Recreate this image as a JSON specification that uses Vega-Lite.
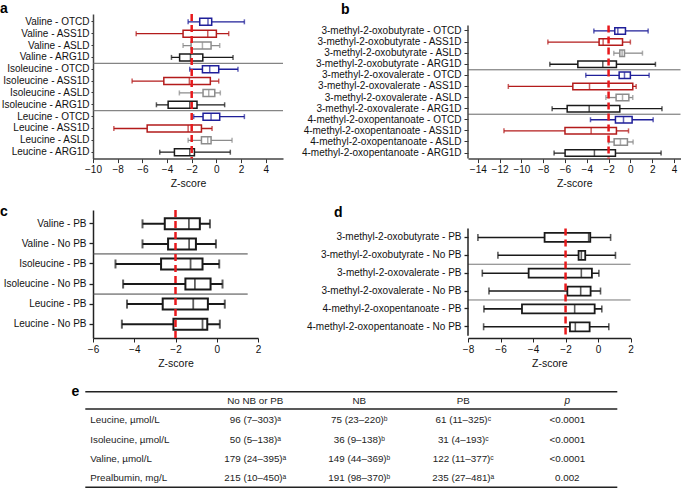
{
  "$schema": "https://vega.github.io/schema/vega-lite/v6.json",
  "padding": {"left": 0, "top": 1, "right": 0, "bottom": 0},
  "background": "white",
  "config": {
    "font": "Liberation Sans",
    "view": {"stroke": null},
    "axis": {"labelFontSize": 10, "titleFontSize": 10.5, "titleFontWeight": "normal", "grid": false, "labelColor": "#111111", "titleColor": "#111111", "domainColor": "#333333", "tickColor": "#333333", "labelOverlap": false, "labelFlush": false},
    "title": {"fontSize": 14, "fontWeight": "bold", "anchor": "start", "frame": "group", "offset": 0, "baseline": "alphabetic", "color": "black"}
  },
  "datasets": {
    "a": [
      {"label": "Valine - OTCD", "group": "OTCD", "lo": -2.29, "q1": -1.35, "med": -0.68, "q3": -0.38, "hi": 2.27},
      {"label": "Valine - ASS1D", "group": "ASS1D", "lo": -6.5, "q1": -2.7, "med": -0.7, "q3": 0.0, "hi": 1.0},
      {"label": "Valine - ASLD", "group": "ASLD", "lo": -2.7, "q1": -2.05, "med": -1.13, "q3": -0.43, "hi": 0.27},
      {"label": "Valine - ARG1D", "group": "ARG1D", "lo": -3.64, "q1": -2.98, "med": -2.1, "q3": -1.1, "hi": 1.35},
      {"label": "Isoleucine - OTCD", "group": "OTCD", "lo": -2.16, "q1": -1.13, "med": -0.54, "q3": 0.19, "hi": 1.75},
      {"label": "Isoleucine - ASS1D", "group": "ASS1D", "lo": -6.83, "q1": -4.26, "med": -2.19, "q3": -0.49, "hi": 0.19},
      {"label": "Isoleucine - ASLD", "group": "ASLD", "lo": -3.0, "q1": -1.08, "med": -0.62, "q3": -0.13, "hi": 0.32},
      {"label": "Isoleucine - ARG1D", "group": "ARG1D", "lo": -4.86, "q1": -3.91, "med": -2.16, "q3": -1.57, "hi": 0.67},
      {"label": "Leucine - OTCD", "group": "OTCD", "lo": -1.84, "q1": -1.08, "med": -0.43, "q3": 0.27, "hi": 2.27},
      {"label": "Leucine - ASS1D", "group": "ASS1D", "lo": -8.31, "q1": -5.61, "med": -2.29, "q3": -1.21, "hi": -0.35},
      {"label": "Leucine - ASLD", "group": "ASLD", "lo": -2.29, "q1": -1.21, "med": -0.7, "q3": -0.43, "hi": 1.27},
      {"label": "Leucine - ARG1D", "group": "ARG1D", "lo": -4.59, "q1": -3.4, "med": -2.16, "q3": -1.78, "hi": 1.13}
    ],
    "b": [
      {"label": "3-methyl-2-oxobutyrate - OTCD", "group": "OTCD", "lo": -3.35, "q1": -1.43, "med": -1.15, "q3": -0.45, "hi": 1.63},
      {"label": "3-methyl-2-oxobutyrate - ASS1D", "group": "ASS1D", "lo": -7.57, "q1": -2.87, "med": -2.5, "q3": -0.72, "hi": 0.0},
      {"label": "3-methyl-2-oxobutyrate - ASLD", "group": "ASLD", "lo": -1.52, "q1": -0.97, "med": -0.76, "q3": -0.54, "hi": 1.11},
      {"label": "3-methyl-2-oxobutyrate - ARG1D", "group": "ARG1D", "lo": -7.39, "q1": -4.82, "med": -2.53, "q3": -1.28, "hi": 2.3},
      {"label": "3-methyl-2-oxovalerate - OTCD", "group": "OTCD", "lo": -4.09, "q1": -1.03, "med": -0.54, "q3": 0.0, "hi": 1.72},
      {"label": "3-methyl-2-oxovalerate - ASS1D", "group": "ASS1D", "lo": -11.2, "q1": -5.28, "med": -3.75, "q3": 0.22, "hi": 0.53},
      {"label": "3-methyl-2-oxovalerate - ASLD", "group": "ASLD", "lo": -2.25, "q1": -1.31, "med": -0.72, "q3": -0.14, "hi": 0.22},
      {"label": "3-methyl-2-oxovalerate - ARG1D", "group": "ARG1D", "lo": -7.18, "q1": -5.8, "med": -3.78, "q3": -0.97, "hi": 2.9},
      {"label": "4-methyl-2-oxopentanoate - OTCD", "group": "OTCD", "lo": -3.66, "q1": -1.37, "med": -0.63, "q3": 0.16, "hi": 2.09},
      {"label": "4-methyl-2-oxopentanoate - ASS1D", "group": "ASS1D", "lo": -11.6, "q1": -6.0, "med": -3.6, "q3": -1.28, "hi": -0.17},
      {"label": "4-methyl-2-oxopentanoate - ASLD", "group": "ASLD", "lo": -2.0, "q1": -1.49, "med": -0.91, "q3": -0.27, "hi": 0.25},
      {"label": "4-methyl-2-oxopentanoate - ARG1D", "group": "ARG1D", "lo": -7.0, "q1": -5.99, "med": -3.3, "q3": -1.37, "hi": 2.82}
    ],
    "c": [
      {"label": "Valine - PB", "lo": -3.6, "q1": -2.52, "med": -1.35, "q3": -0.82, "hi": -0.33},
      {"label": "Valine - No PB", "lo": -3.6, "q1": -2.36, "med": -1.34, "q3": -1.01, "hi": -0.04},
      {"label": "Isoleucine - PB", "lo": -4.91, "q1": -2.7, "med": -1.27, "q3": -0.69, "hi": 0.12},
      {"label": "Isoleucine - No PB", "lo": -4.54, "q1": -1.52, "med": -1.06, "q3": -0.3, "hi": 0.28},
      {"label": "Leucine - PB", "lo": -4.35, "q1": -2.62, "med": -1.14, "q3": -0.43, "hi": 0.39},
      {"label": "Leucine - No PB", "lo": -4.6, "q1": -2.1, "med": -0.69, "q3": -0.46, "hi": 0.15}
    ],
    "d": [
      {"label": "3-methyl-2-oxobutyrate - PB", "lo": -7.39, "q1": -3.29, "med": -0.58, "q3": -0.48, "hi": 0.77},
      {"label": "3-methyl-2-oxobutyrate - No PB", "lo": -6.16, "q1": -1.2, "med": -1.03, "q3": -0.79, "hi": 1.07},
      {"label": "3-methyl-2-oxovalerate - PB", "lo": -7.12, "q1": -4.27, "med": -1.03, "q3": -0.38, "hi": 0.05},
      {"label": "3-methyl-2-oxovalerate - No PB", "lo": -6.71, "q1": -1.89, "med": -1.07, "q3": -0.46, "hi": 0.15},
      {"label": "4-methyl-2-oxopentanoate - PB", "lo": -7.02, "q1": -4.68, "med": -1.44, "q3": -0.21, "hi": 0.23},
      {"label": "4-methyl-2-oxopentanoate - No PB", "lo": -7.04, "q1": -1.73, "med": -1.4, "q3": -0.52, "hi": 0.66}
    ],
    "e": [
      {"row": "header", "col": "No NB or PB", "text": "No NB or PB"},
      {"row": "header", "col": "NB", "text": "NB"},
      {"row": "header", "col": "PB", "text": "PB"},
      {"row": "header", "col": "p", "text": "p"},
      {"row": "Leucine, µmol/L", "col": "label", "text": "Leucine, µmol/L"},
      {"row": "Leucine, µmol/L", "col": "No NB or PB", "text": "96 (7–303)ᵃ"},
      {"row": "Leucine, µmol/L", "col": "NB", "text": "75 (23–220)ᵇ"},
      {"row": "Leucine, µmol/L", "col": "PB", "text": "61 (11–325)ᶜ"},
      {"row": "Leucine, µmol/L", "col": "p", "text": "<0.0001"},
      {"row": "Isoleucine, µmol/L", "col": "label", "text": "Isoleucine, µmol/L"},
      {"row": "Isoleucine, µmol/L", "col": "No NB or PB", "text": "50 (5–138)ᵃ"},
      {"row": "Isoleucine, µmol/L", "col": "NB", "text": "36 (9–138)ᵇ"},
      {"row": "Isoleucine, µmol/L", "col": "PB", "text": "31 (4–193)ᶜ"},
      {"row": "Isoleucine, µmol/L", "col": "p", "text": "<0.0001"},
      {"row": "Valine, µmol/L", "col": "label", "text": "Valine, µmol/L"},
      {"row": "Valine, µmol/L", "col": "No NB or PB", "text": "179 (24–395)ᵃ"},
      {"row": "Valine, µmol/L", "col": "NB", "text": "149 (44–369)ᵇ"},
      {"row": "Valine, µmol/L", "col": "PB", "text": "122 (11–377)ᶜ"},
      {"row": "Valine, µmol/L", "col": "p", "text": "<0.0001"},
      {"row": "Prealbumin, mg/L", "col": "label", "text": "Prealbumin, mg/L"},
      {"row": "Prealbumin, mg/L", "col": "No NB or PB", "text": "215 (10–450)ᵃ"},
      {"row": "Prealbumin, mg/L", "col": "NB", "text": "191 (98–370)ᵇ"},
      {"row": "Prealbumin, mg/L", "col": "PB", "text": "235 (27–481)ᵃ"},
      {"row": "Prealbumin, mg/L", "col": "p", "text": "0.002"}
    ]
  },
  "columns": 2,
  "bounds": "flush",
  "align": "each",
  "spacing": {"row": 51, "column": 185},
  "concat": [
    {
      "width": 190, "height": 144.6,
      "title": {"text": "a", "dx": -93, "offset": -3},
      "layer": [
        {"data": {"values": [{"label": "Isoleucine - OTCD"}, {"label": "Leucine - OTCD"}]},
         "mark": {"type": "rule", "color": "#666666", "strokeWidth": 1},
         "encoding": {"y": {"field": "label", "type": "nominal", "bandPosition": 0,
           "scale": {"domain": ["Valine - OTCD","Valine - ASS1D","Valine - ASLD","Valine - ARG1D","Isoleucine - OTCD","Isoleucine - ASS1D","Isoleucine - ASLD","Isoleucine - ARG1D","Leucine - OTCD","Leucine - ASS1D","Leucine - ASLD","Leucine - ARG1D"], "paddingInner": 0, "paddingOuter": 0.1, "align": 0.8},
           "axis": {"title": null, "tickSize": 2, "labelPadding": 2, "labelLimit": 300, "domainWidth": 1.5, "domainColor": "#444444",
             "encode": {"labels": {"update": {"fill": {"signal": "indexof(datum.value,'OTCD')>=0 ? '#2323ee' : indexof(datum.value,'ASS1D')>=0 ? '#ee1f1f' : indexof(datum.value,'ASLD')>=0 ? '#9a9a9a' : '#111111'"}}}}}}}},
        {"data": {"name": "a"}, "mark": {"type": "rule", "strokeWidth": 1.3},
         "encoding": {"y": {"field": "label", "type": "nominal", "title": null},
           "x": {"field": "lo", "type": "quantitative", "title": "Z-score", "scale": {"domain": [-10, 5.4], "nice": false, "zero": false},
             "axis": {"title": "Z-score", "values": [-10, -8, -6, -4, -2, 0, 2, 4], "format": "d", "tickCount": 40, "labelOverlap": false, "labelFlush": false, "tickSize": 4, "labelPadding": 2, "titlePadding": 4, "domainWidth": 1.5, "domainColor": "#444444"}},
           "x2": {"field": "hi"},
           "color": {"field": "group", "type": "nominal", "scale": {"domain": ["OTCD", "ASS1D", "ASLD", "ARG1D"], "range": ["#1f1f99", "#b31b1b", "#8c8c8c", "#1a1a1a"]}, "legend": null}}},
        {"data": {"name": "a"}, "mark": {"type": "bar", "fill": "white", "size": 7, "strokeWidth": 1.5},
         "encoding": {"y": {"field": "label", "type": "nominal", "title": null},
           "x": {"field": "q1", "type": "quantitative", "title": "Z-score", "scale": {"domain": [-10, 5.4], "nice": false, "zero": false}},
           "x2": {"field": "q3"},
           "stroke": {"field": "group", "type": "nominal", "scale": {"domain": ["OTCD", "ASS1D", "ASLD", "ARG1D"], "range": ["#1f1f99", "#b31b1b", "#8c8c8c", "#1a1a1a"]}, "legend": null}}},
        {"data": {"name": "a"}, "mark": {"type": "tick", "size": 7, "thickness": 1.5},
         "encoding": {"y": {"field": "label", "type": "nominal", "title": null},
           "x": {"field": "med", "type": "quantitative", "title": "Z-score", "scale": {"domain": [-10, 5.4], "nice": false, "zero": false}},
           "color": {"field": "group", "type": "nominal", "legend": null}}},
        {"data": {"name": "a"}, "mark": {"type": "tick", "size": 5, "thickness": 1.5},
         "encoding": {"y": {"field": "label", "type": "nominal", "title": null},
           "x": {"field": "lo", "type": "quantitative", "title": "Z-score", "scale": {"domain": [-10, 5.4], "nice": false, "zero": false}},
           "color": {"field": "group", "type": "nominal", "legend": null}}},
        {"data": {"name": "a"}, "mark": {"type": "tick", "size": 5, "thickness": 1.5},
         "encoding": {"y": {"field": "label", "type": "nominal", "title": null},
           "x": {"field": "hi", "type": "quantitative", "title": "Z-score", "scale": {"domain": [-10, 5.4], "nice": false, "zero": false}},
           "color": {"field": "group", "type": "nominal", "legend": null}}},
        {"data": {"values": [{"z": -2}]}, "mark": {"type": "rule", "color": "#e8191c", "strokeWidth": 2.5, "strokeDash": [7, 4]},
         "encoding": {"x": {"field": "z", "type": "quantitative", "title": "Z-score", "scale": {"domain": [-10, 5.4], "nice": false, "zero": false}}}}
      ]
    },
    {
      "width": 212.5, "height": 144.6,
      "title": {"text": "b", "dx": -127, "offset": -3},
      "layer": [
        {"data": {"values": [{"label": "3-methyl-2-oxovalerate - OTCD"}, {"label": "4-methyl-2-oxopentanoate - OTCD"}]},
         "mark": {"type": "rule", "color": "#666666", "strokeWidth": 1},
         "encoding": {"y": {"field": "label", "type": "nominal", "bandPosition": 0,
           "scale": {"domain": ["3-methyl-2-oxobutyrate - OTCD","3-methyl-2-oxobutyrate - ASS1D","3-methyl-2-oxobutyrate - ASLD","3-methyl-2-oxobutyrate - ARG1D","3-methyl-2-oxovalerate - OTCD","3-methyl-2-oxovalerate - ASS1D","3-methyl-2-oxovalerate - ASLD","3-methyl-2-oxovalerate - ARG1D","4-methyl-2-oxopentanoate - OTCD","4-methyl-2-oxopentanoate - ASS1D","4-methyl-2-oxopentanoate - ASLD","4-methyl-2-oxopentanoate - ARG1D"], "paddingInner": 0, "paddingOuter": 0.514, "align": 1},
           "axis": {"title": null, "domain": false, "tickSize": 4, "labelPadding": 3, "labelLimit": 300,
             "encode": {"labels": {"update": {"fill": {"signal": "indexof(datum.value,'OTCD')>=0 ? '#2323ee' : indexof(datum.value,'ASS1D')>=0 ? '#ee1f1f' : indexof(datum.value,'ASLD')>=0 ? '#9a9a9a' : '#111111'"}}}}}}}},
        {"data": {"name": "b"}, "mark": {"type": "rule", "strokeWidth": 1.3},
         "encoding": {"y": {"field": "label", "type": "nominal", "title": null},
           "x": {"field": "lo", "type": "quantitative", "title": "Z-score", "scale": {"domain": [-14.9, 4.6], "nice": false, "zero": false},
             "axis": {"title": "Z-score", "values": [-14, -12, -10, -8, -6, -4, -2, 0, 2, 4], "format": "d", "tickCount": 40, "labelOverlap": false, "labelFlush": false, "tickSize": 4, "labelPadding": 2, "titlePadding": 4, "domainWidth": 1.5, "domainColor": "#444444"}},
           "x2": {"field": "hi"},
           "color": {"field": "group", "type": "nominal", "scale": {"domain": ["OTCD", "ASS1D", "ASLD", "ARG1D"], "range": ["#1f1f99", "#b31b1b", "#8c8c8c", "#1a1a1a"]}, "legend": null}}},
        {"data": {"name": "b"}, "mark": {"type": "bar", "fill": "white", "size": 6.5, "strokeWidth": 1.5},
         "encoding": {"y": {"field": "label", "type": "nominal", "title": null},
           "x": {"field": "q1", "type": "quantitative", "title": "Z-score", "scale": {"domain": [-14.9, 4.6], "nice": false, "zero": false}},
           "x2": {"field": "q3"},
           "stroke": {"field": "group", "type": "nominal", "scale": {"domain": ["OTCD", "ASS1D", "ASLD", "ARG1D"], "range": ["#1f1f99", "#b31b1b", "#8c8c8c", "#1a1a1a"]}, "legend": null}}},
        {"data": {"name": "b"}, "mark": {"type": "tick", "size": 6.5, "thickness": 1.5},
         "encoding": {"y": {"field": "label", "type": "nominal", "title": null},
           "x": {"field": "med", "type": "quantitative", "title": "Z-score", "scale": {"domain": [-14.9, 4.6], "nice": false, "zero": false}},
           "color": {"field": "group", "type": "nominal", "legend": null}}},
        {"data": {"name": "b"}, "mark": {"type": "tick", "size": 5, "thickness": 1.5},
         "encoding": {"y": {"field": "label", "type": "nominal", "title": null},
           "x": {"field": "lo", "type": "quantitative", "title": "Z-score", "scale": {"domain": [-14.9, 4.6], "nice": false, "zero": false}},
           "color": {"field": "group", "type": "nominal", "legend": null}}},
        {"data": {"name": "b"}, "mark": {"type": "tick", "size": 5, "thickness": 1.5},
         "encoding": {"y": {"field": "label", "type": "nominal", "title": null},
           "x": {"field": "hi", "type": "quantitative", "title": "Z-score", "scale": {"domain": [-14.9, 4.6], "nice": false, "zero": false}},
           "color": {"field": "group", "type": "nominal", "legend": null}}},
        {"data": {"values": [{"z": -2}]}, "mark": {"type": "rule", "color": "#e8191c", "strokeWidth": 2.5, "strokeDash": [7, 4]},
         "encoding": {"x": {"field": "z", "type": "quantitative", "title": "Z-score", "scale": {"domain": [-14.9, 4.6], "nice": false, "zero": false}},
           "y": {"datum": "3-methyl-2-oxobutyrate - OTCD", "type": "nominal", "bandPosition": 0},
           "y2": {"datum": "4-methyl-2-oxopentanoate - ARG1D", "bandPosition": 1}}},
        {"data": {"values": [{"z": -14.9}]}, "mark": {"type": "rule", "color": "#444444", "strokeWidth": 1.5},
         "encoding": {"x": {"field": "z", "type": "quantitative", "title": "Z-score", "scale": {"domain": [-14.9, 4.6], "nice": false, "zero": false}},
           "y": {"datum": "3-methyl-2-oxobutyrate - OTCD", "type": "nominal", "bandPosition": 0},
           "y2": {"datum": "4-methyl-2-oxopentanoate - ARG1D", "bandPosition": 1}}}
      ]
    },
    {
      "width": 165, "height": 128,
      "title": {"text": "c", "dx": -93, "offset": -10},
      "layer": [
        {"data": {"values": [{"label": "Isoleucine - PB"}, {"label": "Leucine - PB"}]},
         "mark": {"type": "rule", "color": "#444444", "strokeWidth": 1},
         "encoding": {"y": {"field": "label", "type": "nominal", "bandPosition": 0,
           "scale": {"domain": ["Valine - PB", "Valine - No PB", "Isoleucine - PB", "Isoleucine - No PB", "Leucine - PB", "Leucine - No PB"], "paddingInner": 0, "paddingOuter": 0.19, "align": 0.5},
           "axis": {"title": null, "tickSize": 4, "labelPadding": 3, "labelLimit": 300, "domainWidth": 1.5, "domainColor": "#222222", "tickColor": "#222222", "tickWidth": 1.3}},
           "x": {"datum": -6, "type": "quantitative", "scale": {"domain": [-6, 2], "nice": false, "zero": false}},
           "x2": {"datum": 1.5}}},
        {"data": {"name": "c"}, "mark": {"type": "rule", "strokeWidth": 2, "color": "#1a1a1a"},
         "encoding": {"y": {"field": "label", "type": "nominal", "title": null},
           "x": {"field": "lo", "type": "quantitative", "title": "Z-score", "scale": {"domain": [-6, 2], "nice": false, "zero": false},
             "axis": {"title": "Z-score", "values": [-6, -4, -2, 0, 2], "format": "d", "tickCount": 40, "labelOverlap": false, "labelFlush": false, "tickSize": 4, "labelPadding": 2, "titlePadding": 4, "domainWidth": 1.5, "domainColor": "#222222", "tickColor": "#222222"}},
           "x2": {"field": "hi"}}},
        {"data": {"name": "c"}, "mark": {"type": "bar", "fill": "white", "stroke": "#1a1a1a", "size": 11, "strokeWidth": 2},
         "encoding": {"y": {"field": "label", "type": "nominal", "title": null},
           "x": {"field": "q1", "type": "quantitative", "title": "Z-score", "scale": {"domain": [-6, 2], "nice": false, "zero": false}},
           "x2": {"field": "q3"}}},
        {"data": {"name": "c"}, "mark": {"type": "tick", "size": 11, "thickness": 1.8, "color": "#1a1a1a"},
         "encoding": {"y": {"field": "label", "type": "nominal", "title": null},
           "x": {"field": "med", "type": "quantitative", "title": "Z-score", "scale": {"domain": [-6, 2], "nice": false, "zero": false}}}},
        {"data": {"name": "c"}, "mark": {"type": "tick", "size": 9, "thickness": 2, "color": "#1a1a1a"},
         "encoding": {"y": {"field": "label", "type": "nominal", "title": null},
           "x": {"field": "lo", "type": "quantitative", "title": "Z-score", "scale": {"domain": [-6, 2], "nice": false, "zero": false}}}},
        {"data": {"name": "c"}, "mark": {"type": "tick", "size": 9, "thickness": 2, "color": "#1a1a1a"},
         "encoding": {"y": {"field": "label", "type": "nominal", "title": null},
           "x": {"field": "hi", "type": "quantitative", "title": "Z-score", "scale": {"domain": [-6, 2], "nice": false, "zero": false}}}},
        {"data": {"values": [{"z": -2}]}, "mark": {"type": "rule", "color": "#e8191c", "strokeWidth": 2.5, "strokeDash": [7, 4]},
         "encoding": {"x": {"field": "z", "type": "quantitative", "title": "Z-score", "scale": {"domain": [-6, 2], "nice": false, "zero": false}}}}
      ]
    },
    {
      "width": 162.6, "height": 128,
      "title": {"text": "d", "dx": -134, "offset": -10},
      "layer": [
        {"data": {"values": [{"label": "3-methyl-2-oxovalerate - PB"}, {"label": "4-methyl-2-oxopentanoate - PB"}]},
         "mark": {"type": "rule", "color": "#777777", "strokeWidth": 1},
         "encoding": {"y": {"field": "label", "type": "nominal", "bandPosition": 0,
           "scale": {"domain": ["3-methyl-2-oxobutyrate - PB", "3-methyl-2-oxobutyrate - No PB", "3-methyl-2-oxovalerate - PB", "3-methyl-2-oxovalerate - No PB", "4-methyl-2-oxopentanoate - PB", "4-methyl-2-oxopentanoate - No PB"], "paddingInner": 0, "paddingOuter": 0.582, "align": 0.89},
           "axis": {"title": null, "domain": false, "tickSize": 4, "labelPadding": 3, "labelLimit": 300, "tickColor": "#222222", "tickWidth": 1.3}}}},
        {"data": {"name": "d"}, "mark": {"type": "rule", "strokeWidth": 1.6, "color": "#1a1a1a"},
         "encoding": {"y": {"field": "label", "type": "nominal", "title": null},
           "x": {"field": "lo", "type": "quantitative", "title": "Z-score", "scale": {"domain": [-8, 2], "nice": false, "zero": false},
             "axis": {"title": "Z-score", "values": [-8, -6, -4, -2, 0, 2], "format": "d", "tickCount": 40, "labelOverlap": false, "labelFlush": false, "tickSize": 4, "labelPadding": 2, "titlePadding": 4, "domainWidth": 1.5, "domainColor": "#222222", "tickColor": "#222222"}},
           "x2": {"field": "hi"}}},
        {"data": {"name": "d"}, "mark": {"type": "bar", "fill": "white", "stroke": "#1a1a1a", "size": 9, "strokeWidth": 1.8},
         "encoding": {"y": {"field": "label", "type": "nominal", "title": null},
           "x": {"field": "q1", "type": "quantitative", "title": "Z-score", "scale": {"domain": [-8, 2], "nice": false, "zero": false}},
           "x2": {"field": "q3"}}},
        {"data": {"name": "d"}, "mark": {"type": "tick", "size": 9, "thickness": 1.6, "color": "#1a1a1a"},
         "encoding": {"y": {"field": "label", "type": "nominal", "title": null},
           "x": {"field": "med", "type": "quantitative", "title": "Z-score", "scale": {"domain": [-8, 2], "nice": false, "zero": false}}}},
        {"data": {"name": "d"}, "mark": {"type": "tick", "size": 7, "thickness": 1.6, "color": "#1a1a1a"},
         "encoding": {"y": {"field": "label", "type": "nominal", "title": null},
           "x": {"field": "lo", "type": "quantitative", "title": "Z-score", "scale": {"domain": [-8, 2], "nice": false, "zero": false}}}},
        {"data": {"name": "d"}, "mark": {"type": "tick", "size": 7, "thickness": 1.6, "color": "#1a1a1a"},
         "encoding": {"y": {"field": "label", "type": "nominal", "title": null},
           "x": {"field": "hi", "type": "quantitative", "title": "Z-score", "scale": {"domain": [-8, 2], "nice": false, "zero": false}}}},
        {"data": {"values": [{"z": -2}]}, "mark": {"type": "rule", "color": "#e8191c", "strokeWidth": 2.5, "strokeDash": [7, 4]},
         "encoding": {"x": {"field": "z", "type": "quantitative", "title": "Z-score", "scale": {"domain": [-8, 2], "nice": false, "zero": false}},
           "y": {"datum": "3-methyl-2-oxobutyrate - PB", "type": "nominal", "bandPosition": 0},
           "y2": {"datum": "4-methyl-2-oxopentanoate - No PB", "bandPosition": 1}}},
        {"data": {"values": [{"z": -8}]}, "mark": {"type": "rule", "color": "#222222", "strokeWidth": 1.5},
         "encoding": {"x": {"field": "z", "type": "quantitative", "title": "Z-score", "scale": {"domain": [-8, 2], "nice": false, "zero": false}},
           "y": {"datum": "3-methyl-2-oxobutyrate - PB", "type": "nominal", "bandPosition": 0},
           "y2": {"datum": "4-methyl-2-oxopentanoate - No PB", "bandPosition": 1}}}
      ]
    },
    {
      "width": 100, "height": 106,
      "layer": [
        {"data": {"name": "e"}, "transform": [{"filter": "datum.col !== 'label' && datum.row !== 'header'"}],
         "mark": {"type": "text", "fontSize": 9.8, "color": "#222222"},
         "encoding": {
           "x": {"field": "col", "type": "nominal", "scale": {"domain": ["label", "No NB or PB", "NB", "PB", "p"], "range": [6.3, 526.3], "paddingInner": 0, "paddingOuter": 0}, "axis": null},
           "y": {"field": "row", "type": "nominal", "scale": {"domain": ["header", "Leucine, µmol/L", "Isoleucine, µmol/L", "Valine, µmol/L", "Prealbumin, mg/L"], "paddingInner": 0, "paddingOuter": 0.278, "align": 0.27}, "axis": null},
           "text": {"field": "text", "type": "nominal"}}},
        {"data": {"name": "e"}, "transform": [{"filter": "datum.col === 'label'"}],
         "mark": {"type": "text", "fontSize": 9.8, "color": "#222222", "align": "left", "dx": -9},
         "encoding": {
           "x": {"field": "col", "type": "nominal", "bandPosition": 0, "axis": null},
           "y": {"field": "row", "type": "nominal", "axis": null},
           "text": {"field": "text", "type": "nominal"}}},
        {"data": {"name": "e"}, "transform": [{"filter": "datum.row === 'header' && datum.col !== 'p'"}],
         "mark": {"type": "text", "fontSize": 9.8, "color": "#222222"},
         "encoding": {
           "x": {"field": "col", "type": "nominal", "axis": null},
           "y": {"field": "row", "type": "nominal", "axis": null},
           "text": {"field": "text", "type": "nominal"}}},
        {"data": {"name": "e"}, "transform": [{"filter": "datum.row === 'header' && datum.col === 'p'"}],
         "mark": {"type": "text", "fontSize": 10, "fontStyle": "italic", "color": "#222222"},
         "encoding": {
           "x": {"field": "col", "type": "nominal", "axis": null},
           "y": {"field": "row", "type": "nominal", "axis": null},
           "text": {"field": "text", "type": "nominal"}}},
        {"data": {"values": [{"row": "header"}]},
         "mark": {"type": "rule", "color": "#222222", "strokeWidth": 1.5, "xOffset": -14, "x2Offset": -2},
         "encoding": {"x": {"datum": "label", "type": "nominal", "bandPosition": 0}, "x2": {"datum": "p", "bandPosition": 1},
           "y": {"field": "row", "type": "nominal", "bandPosition": 0, "axis": null}}},
        {"data": {"values": [{"row": "header"}]},
         "mark": {"type": "rule", "color": "#222222", "strokeWidth": 1.5, "xOffset": -14, "x2Offset": -2, "yOffset": -2},
         "encoding": {"x": {"datum": "label", "type": "nominal", "bandPosition": 0}, "x2": {"datum": "p", "bandPosition": 1},
           "y": {"field": "row", "type": "nominal", "bandPosition": 1, "axis": null}}},
        {"data": {"values": [{"row": "Prealbumin, mg/L"}]},
         "mark": {"type": "rule", "color": "#222222", "strokeWidth": 1.5, "xOffset": -14, "x2Offset": -2},
         "encoding": {"x": {"datum": "label", "type": "nominal", "bandPosition": 0}, "x2": {"datum": "p", "bandPosition": 1},
           "y": {"field": "row", "type": "nominal", "bandPosition": 1, "axis": null}}},
        {"data": {"values": [{"row": "header", "letter": "e"}]},
         "mark": {"type": "text", "fontSize": 14, "fontWeight": "bold", "color": "black", "dx": -24},
         "encoding": {"x": {"datum": "label", "type": "nominal", "bandPosition": 0},
           "y": {"field": "row", "type": "nominal", "bandPosition": 0, "axis": null},
           "text": {"field": "letter", "type": "nominal"}}}
      ]
    }
  ]
}
